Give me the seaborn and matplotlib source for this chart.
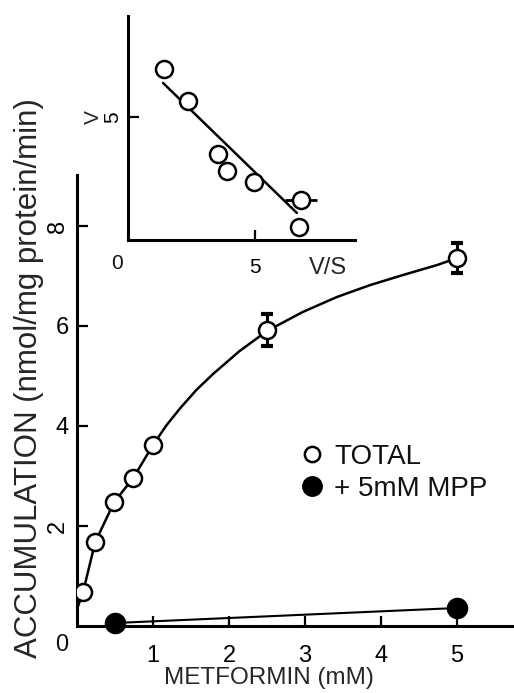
import matplotlib
matplotlib.use("Agg")
import matplotlib.pyplot as plt
from matplotlib.lines import Line2D
import numpy as np
import pandas as pd
import seaborn as sns

# ---------------- data ----------------
total_x = [0.08, 0.24, 0.49, 0.74, 1.0, 2.5, 5.0]
total_y = [0.68, 1.68, 2.48, 2.96, 3.62, 5.92, 7.36]
total_err = [0, 0, 0, 0, 0, 0.32, 0.30]

mpp_x = [0.5, 5.0]
mpp_y = [0.06, 0.36]

# fitted saturation curve
curve_x = [0.01, 0.08, 0.24, 0.49, 0.74, 1.0, 1.18, 1.36, 1.57, 1.79,
           2.14, 2.5, 2.97, 3.42, 3.86, 4.29, 4.74, 5.0]
curve_y = [0.38, 0.68, 1.68, 2.48, 2.96, 3.62, 4.02, 4.36, 4.72, 5.04,
           5.50, 5.90, 6.28, 6.58, 6.82, 7.02, 7.22, 7.36]

# inset (Eadie-Hofstee plot)
inset_vs = [1.42, 2.36, 3.54, 3.90, 4.96, 6.81, 6.73]
inset_v = [6.95, 5.65, 3.50, 2.80, 2.36, 1.63, 0.53]
inset_vs_err = [0, 0, 0, 0, 0, 0.63, 0]
inset_fit_vs = [1.38, 6.65]
inset_fit_v = [6.38, 1.10]

x_ticks = [1, 2, 3, 4, 5]
y_ticks = [2, 4, 6, 8]
rotated_yticks = ["8", "2"]
inset_x_ticks = [5]
inset_y_ticks = [5]

legend_labels = ["TOTAL", "+ 5mM MPP"]

# ---------------- style ----------------
sns.set_theme(style="ticks")
plt.rcParams["font.family"] = ["Liberation Sans", "DejaVu Sans"]
plt.rcParams["text.color"] = "#111111"

W, H = 514, 693
fig = plt.figure(figsize=(W / 100, H / 100), dpi=100)

# ---------------- main axes ----------------
ax = fig.add_axes([77 / W, 1 - 626 / H, 437 / W, 451 / H])

total_df = pd.DataFrame({"x": total_x, "y": total_y, "err": total_err})
mpp_df = pd.DataFrame({"x": mpp_x, "y": mpp_y})
curve_df = pd.DataFrame({"x": curve_x, "y": curve_y})

sns.lineplot(data=curve_df, x="x", y="y", ax=ax, color="black", lw=1.8,
             sort=False, estimator=None, zorder=2)
sns.lineplot(data=mpp_df, x="x", y="y", ax=ax, color="black", lw=1.5,
             sort=False, estimator=None, zorder=2)

eb = total_df[total_df["err"] > 0]
ax.errorbar(eb["x"], eb["y"], yerr=eb["err"], fmt="none", ecolor="black",
            elinewidth=2.2, capsize=4, capthick=3, zorder=3)

sns.scatterplot(data=total_df, x="x", y="y", ax=ax, marker="o", s=150,
                facecolor="white", edgecolor="black", linewidth=1.8, zorder=4)
sns.scatterplot(data=mpp_df, x="x", y="y", ax=ax, marker="o", s=210,
                color="black", edgecolor="black", linewidth=1, zorder=4,
                clip_on=False)

ax.set_xlim(0, 5.75)
ax.set_ylim(0, 9.02)
ax.set_xticks(x_ticks)
ax.set_xticklabels([str(t) for t in x_ticks])
ax.set_yticks(y_ticks)
ax.set_yticklabels([str(t) for t in y_ticks])
for lbl in ax.get_yticklabels():
    if lbl.get_text() in rotated_yticks:
        lbl.set_rotation(90)
        lbl.set_va("center")

ax.tick_params(axis="x", direction="in", length=7, width=1.6, pad=14,
               labelsize=17, colors="black")
ax.tick_params(axis="y", direction="in", length=8, width=1.6, pad=6,
               labelsize=17, colors="black")
for side in ["top", "right"]:
    ax.spines[side].set_visible(False)
for side in ["left", "bottom"]:
    ax.spines[side].set_linewidth(2.2)
    ax.spines[side].set_color("black")

ax.text(-0.034, -0.042, "0", transform=ax.transAxes, ha="center",
        va="center", fontsize=17)

ax.set_xlabel("METFORMIN (mM)", fontsize=17.5)
ax.xaxis.set_label_coords(0.44, -0.09)
ax.set_ylabel("ACCUMULATION (nmol/mg protein/min)", fontsize=22.5)
ax.yaxis.set_label_coords(-0.075, 0.55)

handles = [
    Line2D([], [], ls="none", marker="o", ms=11, mfc="white", mec="black",
           mew=1.8),
    Line2D([], [], ls="none", marker="o", ms=14, mfc="black", mec="black"),
]
ax.legend(handles, legend_labels, loc="upper left",
          bbox_to_anchor=(301 / W, 1 - 444 / H), bbox_transform=fig.transFigure,
          frameon=False, fontsize=20, handlelength=0.8, handletextpad=0.4,
          labelspacing=0.2, borderpad=0, borderaxespad=0)

# ---------------- inset ----------------
ins = fig.add_axes([128 / W, 1 - 240 / H, 227 / W, 224 / H])
inset_df = pd.DataFrame({"vs": inset_vs, "v": inset_v, "err": inset_vs_err})
fit_df = pd.DataFrame({"vs": inset_fit_vs, "v": inset_fit_v})

sns.lineplot(data=fit_df, x="vs", y="v", ax=ins, color="black", lw=1.8,
             sort=False, estimator=None, zorder=2)
ieb = inset_df[inset_df["err"] > 0]
ins.errorbar(ieb["vs"], ieb["v"], xerr=ieb["err"], fmt="none", ecolor="black",
             elinewidth=2, capsize=0, zorder=3)
sns.scatterplot(data=inset_df, x="vs", y="v", ax=ins, marker="o", s=150,
                facecolor="white", edgecolor="black", linewidth=1.8, zorder=4)

ins.set_xlim(0, 8.94)
ins.set_ylim(0, 9.1)
ins.set_xticks(inset_x_ticks)
ins.set_xticklabels([str(t) for t in inset_x_ticks])
ins.set_yticks(inset_y_ticks)
ins.set_yticklabels([str(t) for t in inset_y_ticks], rotation=90, va="center")
ins.tick_params(axis="x", direction="in", length=7, width=1.6, pad=13,
                labelsize=15, colors="black")
ins.tick_params(axis="y", direction="in", length=8, width=1.6, pad=4,
                labelsize=15, colors="black")
for side in ["top", "right"]:
    ins.spines[side].set_visible(False)
for side in ["left", "bottom"]:
    ins.spines[side].set_linewidth(2.2)
    ins.spines[side].set_color("black")
ins.patch.set_alpha(0)

ins.text(-0.048, -0.103, "0", transform=ins.transAxes, ha="center",
         va="center", fontsize=15)
ins.set_xlabel("V/S", fontsize=17)
ins.xaxis.set_label_coords(0.881, -0.075)
ins.set_ylabel("V", fontsize=15)
ins.yaxis.set_label_coords(-0.11, 0.549)

fig.savefig("out.png", dpi=100)
